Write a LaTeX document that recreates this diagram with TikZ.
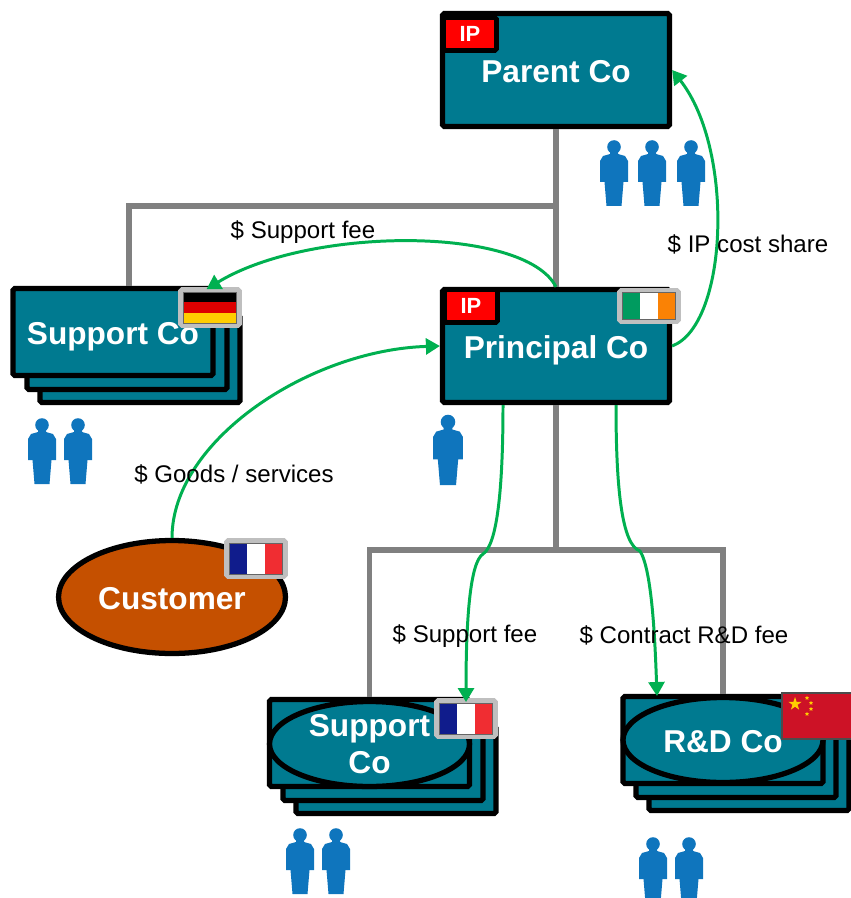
\documentclass[tikz,border=0pt]{standalone}
\usepackage{fontspec}
\setmainfont{Liberation Sans}
\usetikzlibrary{arrows.meta,shapes.geometric}
\tikzset{
  co/.style={draw=black,fill=coteal,line width=3pt,rounded corners=1pt,inner sep=0pt,text=white,align=center,font=\fontsize{18}{21}\selectfont\bfseries},
  oneline/.style={text height=14pt,text depth=0pt},
  cobig/.style={co,oneline,minimum width=4.54cm,minimum height=2.26cm},
  cosmall/.style={co,minimum width=4cm,minimum height=1.74cm},
  coround/.style={co,ellipse,rounded corners=0pt,minimum width=4cm,minimum height=1.7cm},
  ipbadge/.style={draw=black,fill=red,line width=2.8pt,rounded corners=1pt,text=white,inner sep=0pt,minimum width=1.06cm,minimum height=.66cm,font=\fontsize{12.5}{14}\selectfont\bfseries},
  flagbox/.style={draw=flaggrey,fill=white,line width=2.8pt,rounded corners=1pt,inner sep=0pt,minimum width=1.18cm,minimum height=.72cm},
  smallstar/.style={star,star point ratio=2.2,fill=degold,inner sep=0pt,minimum size=.09cm},
  link/.style={draw=linkgrey,line width=3pt},
  pay/.style={draw=paygreen,line width=1.7pt,-{Triangle[length=.28cm,width=.32cm]}},
  paylabel/.style={font=\fontsize{13.7}{16}\selectfont,inner sep=0pt},
  pics/person/.style={code={\fill[manblue] (0,0) circle (6.8);
    \fill[manblue] (-4,4) -- (-4,7) -- (-11,9) -- (-14,14) -- (-14,35) -- (-9.5,35) -- (-7.5,59) -- (7.5,59) -- (9.5,35) -- (14,35) -- (14,14) -- (11,9) -- (4,7) -- (4,4) -- cycle;}},
  pics/flagv/.style args={#1/#2/#3}{code={\fill[#1] (-26.5,-15.5) rectangle (-8.8,15.5);
    \fill[#2] (-8.8,-15.5) rectangle (8.8,15.5);
    \fill[#3] (8.8,-15.5) rectangle (26.5,15.5);
    \draw[black!60,line width=.5pt] (-26.5,-15.5) rectangle (26.5,15.5);}},
  pics/flagh/.style args={#1/#2/#3}{code={\fill[#1] (-26.5,-15.5) rectangle (26.5,-5.2);
    \fill[#2] (-26.5,-5.2) rectangle (26.5,5.2);
    \fill[#3] (-26.5,5.2) rectangle (26.5,15.5);
    \draw[black!60,line width=.5pt] (-26.5,-15.5) rectangle (26.5,15.5);}}
}
\begin{document}
\begin{tikzpicture}[x=0.02cm,y=-0.02cm]
\definecolor{coteal}{RGB}{0,122,144}
\definecolor{cust}{RGB}{197,80,0}
\definecolor{flaggrey}{RGB}{191,191,191}
\definecolor{linkgrey}{RGB}{128,128,128}
\definecolor{paygreen}{RGB}{0,176,80}
\definecolor{manblue}{RGB}{15,117,189}
\definecolor{frblue}{RGB}{16,28,140}
\definecolor{frred}{RGB}{240,45,50}
\definecolor{iegreen}{RGB}{0,155,95}
\definecolor{ieorange}{RGB}{250,130,5}
\definecolor{dered}{RGB}{221,0,0}
\definecolor{degold}{RGB}{255,206,0}
\definecolor{cnred}{RGB}{205,18,38}
\useasboundingbox (0,0) rectangle (850,898);
% companies, back sheets first
\node[cosmall] (supportde3) at (140,359) {};
\node[cosmall] (supportde2) at (127,346) {};
\node[cosmall] (supportfr3) at (396,770) {};
\node[cosmall] (supportfr2) at (383,757) {};
\node[cosmall] (rd3) at (749,767) {};
\node[cosmall] (rd2) at (736,754) {};
\coordinate (top) at (129,206);
\coordinate (bus) at (556,550);
\node[cobig] (parentco) at (556,70) {Parent Co};
\node[cobig] (principal) at (556,346) {Principal Co};
\node[cosmall,oneline] (supportde) at (113,332) {Support Co};
\node[cosmall] (supportfr1) at (369.5,743) {};
\node[cosmall] (rd1) at (723,740) {};
\draw[link] (parentco.south) -- (principal.north);
\draw[link] (supportde.north -| top) -- (top) -- (top -| parentco);
\draw[link] (principal.south) -- (bus);
\draw[link] (supportfr1.north) |- (bus) -| (rd1.north);
\node[coround] (supportfr) at (369.5,744) {Support\\Co};
\node[coround,oneline] (rd) at (723,740) {R\&D Co};
\node[cobig,ellipse,rounded corners=0pt,fill=cust] (customer) at (172,597) {Customer};
% IP badges
\node[ipbadge] (ipparent) at (470,34) {IP};
\node[ipbadge] (ipprincipal) at (471,306) {IP};
% flags
\node[flagbox] (flagde) at (210,307.5) {};
\pic at (flagde) {flagh={black/dered/degold}};
\node[flagbox,minimum height=.62cm] (flagie) at (649,306) {};
\pic[yscale=.87] at (flagie) {flagv={iegreen/white/ieorange}};
\node[flagbox] (flagcust) at (256,558.5) {};
\pic at (flagcust) {flagv={frblue/white/frred}};
\node[flagbox] (flagfr) at (466,718.5) {};
\pic at (flagfr) {flagv={frblue/white/frred}};
\node[draw=black!70,fill=cnred,line width=.8pt,inner sep=0pt,minimum width=1.4cm,minimum height=.92cm] (flagcn) at (817,716) {};
\node[star,star point ratio=2.6,fill=degold,inner sep=0pt,minimum size=.28cm] (cn0) at (795,704) {};
\node[smallstar] (cn1) at (807,698) {};
\node[smallstar] (cn2) at (811,703) {};
\node[smallstar] (cn3) at (811,709) {};
\node[smallstar] (cn4) at (807,714) {};
% people
\pic at (614,147) {person};
\pic at (652,147) {person};
\pic at (691,147) {person};
\pic at (42,425) {person};
\pic at (78,425) {person};
\pic[scale=1.07] at (448,422) {person};
\pic at (300,835) {person};
\pic at (336,835) {person};
\pic at (653,844) {person};
\pic at (689,844) {person};
% payments
\coordinate (feesupport) at (503,405);
\coordinate (feerd) at (616,405);
\coordinate (rdin) at (657,696);
\draw[pay] (principal.east) .. controls (728,325) and (735,150) .. (parentco.east);
\draw[pay,shorten >=-.08cm] (principal.north) .. controls (525,226) and (310,226) .. (flagde.north);
\draw[pay] (customer.north) .. controls (172,440) and (310,350) .. (principal.west);
\draw[pay,shorten >=-.08cm] (feesupport) .. controls (503,490) and (497,545) .. (483,554) .. controls (470,562) and (466,620) .. (flagfr.north);
\draw[pay] (feerd) .. controls (616,490) and (622,545) .. (640,551) .. controls (652,570) and (655,640) .. (rdin);
\node[paylabel] (lblsupportde) at (303,232) {\$ Support fee};
\node[paylabel] (lblip) at (748,244) {\$ IP cost share};
\node[paylabel] (lblgoods) at (234,474.5) {\$ Goods / services};
\node[paylabel] (lblsupportfr) at (465,636) {\$ Support fee};
\node[paylabel] (lblrd) at (684,635) {\$ Contract R\&D fee};
\end{tikzpicture}
\end{document}
